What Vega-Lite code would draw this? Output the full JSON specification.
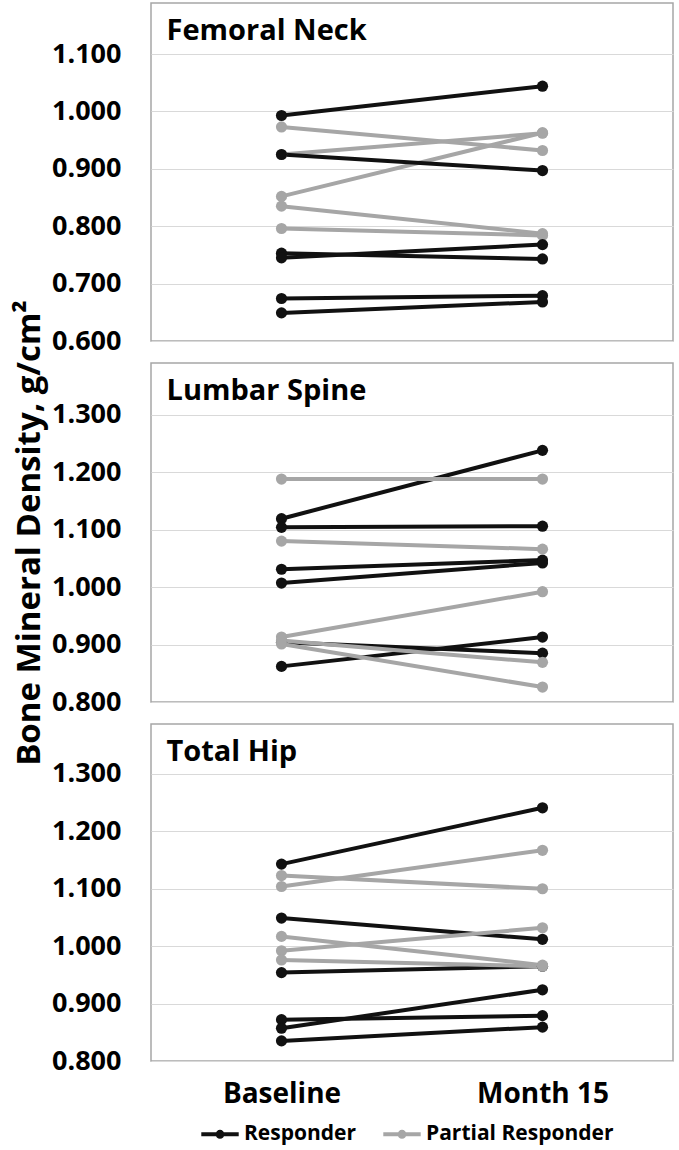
{
  "$schema": "https://vega.github.io/schema/vega-lite/v6.json",
  "background": "white",
  "padding": {"left": 12, "top": 2, "right": 4, "bottom": 0},
  "config": {
    "font": "Open Sans",
    "view": {"stroke": "#a6a6a6", "strokeWidth": 1.5},
    "axis": {
      "labelFont": "Open Sans",
      "labelFontWeight": "bold",
      "labelColor": "#000000",
      "ticks": false,
      "domain": false,
      "gridColor": "#d9d9d9",
      "gridWidth": 1.2,
      "titleFont": "Open Sans",
      "titleFontWeight": "bold",
      "titleColor": "#000000"
    },
    "line": {"strokeWidth": 4}
  },
  "datasets": {
    "bmd": [
      {"site": "Femoral Neck", "id": "P1", "group": "Partial Responder", "time": "Baseline", "bmd": 0.973},
      {"site": "Femoral Neck", "id": "P1", "group": "Partial Responder", "time": "Month 15", "bmd": 0.932},
      {"site": "Femoral Neck", "id": "P2", "group": "Partial Responder", "time": "Baseline", "bmd": 0.925},
      {"site": "Femoral Neck", "id": "P2", "group": "Partial Responder", "time": "Month 15", "bmd": 0.962},
      {"site": "Femoral Neck", "id": "P3", "group": "Partial Responder", "time": "Baseline", "bmd": 0.852},
      {"site": "Femoral Neck", "id": "P3", "group": "Partial Responder", "time": "Month 15", "bmd": 0.963},
      {"site": "Femoral Neck", "id": "P4", "group": "Partial Responder", "time": "Baseline", "bmd": 0.835},
      {"site": "Femoral Neck", "id": "P4", "group": "Partial Responder", "time": "Month 15", "bmd": 0.787},
      {"site": "Femoral Neck", "id": "P5", "group": "Partial Responder", "time": "Baseline", "bmd": 0.796},
      {"site": "Femoral Neck", "id": "P5", "group": "Partial Responder", "time": "Month 15", "bmd": 0.784},
      {"site": "Femoral Neck", "id": "R1", "group": "Responder", "time": "Baseline", "bmd": 0.993},
      {"site": "Femoral Neck", "id": "R1", "group": "Responder", "time": "Month 15", "bmd": 1.044},
      {"site": "Femoral Neck", "id": "R2", "group": "Responder", "time": "Baseline", "bmd": 0.925},
      {"site": "Femoral Neck", "id": "R2", "group": "Responder", "time": "Month 15", "bmd": 0.897},
      {"site": "Femoral Neck", "id": "R3", "group": "Responder", "time": "Baseline", "bmd": 0.753},
      {"site": "Femoral Neck", "id": "R3", "group": "Responder", "time": "Month 15", "bmd": 0.743},
      {"site": "Femoral Neck", "id": "R4", "group": "Responder", "time": "Baseline", "bmd": 0.745},
      {"site": "Femoral Neck", "id": "R4", "group": "Responder", "time": "Month 15", "bmd": 0.768},
      {"site": "Femoral Neck", "id": "R5", "group": "Responder", "time": "Baseline", "bmd": 0.674},
      {"site": "Femoral Neck", "id": "R5", "group": "Responder", "time": "Month 15", "bmd": 0.679},
      {"site": "Femoral Neck", "id": "R6", "group": "Responder", "time": "Baseline", "bmd": 0.649},
      {"site": "Femoral Neck", "id": "R6", "group": "Responder", "time": "Month 15", "bmd": 0.668},
      {"site": "Lumbar Spine", "id": "R1", "group": "Responder", "time": "Baseline", "bmd": 1.119},
      {"site": "Lumbar Spine", "id": "R1", "group": "Responder", "time": "Month 15", "bmd": 1.238},
      {"site": "Lumbar Spine", "id": "R2", "group": "Responder", "time": "Baseline", "bmd": 1.104},
      {"site": "Lumbar Spine", "id": "R2", "group": "Responder", "time": "Month 15", "bmd": 1.106},
      {"site": "Lumbar Spine", "id": "R3", "group": "Responder", "time": "Baseline", "bmd": 1.031},
      {"site": "Lumbar Spine", "id": "R3", "group": "Responder", "time": "Month 15", "bmd": 1.047},
      {"site": "Lumbar Spine", "id": "R4", "group": "Responder", "time": "Baseline", "bmd": 1.007},
      {"site": "Lumbar Spine", "id": "R4", "group": "Responder", "time": "Month 15", "bmd": 1.042},
      {"site": "Lumbar Spine", "id": "R5", "group": "Responder", "time": "Baseline", "bmd": 0.904},
      {"site": "Lumbar Spine", "id": "R5", "group": "Responder", "time": "Month 15", "bmd": 0.885},
      {"site": "Lumbar Spine", "id": "R6", "group": "Responder", "time": "Baseline", "bmd": 0.862},
      {"site": "Lumbar Spine", "id": "R6", "group": "Responder", "time": "Month 15", "bmd": 0.913},
      {"site": "Lumbar Spine", "id": "P1", "group": "Partial Responder", "time": "Baseline", "bmd": 1.188},
      {"site": "Lumbar Spine", "id": "P1", "group": "Partial Responder", "time": "Month 15", "bmd": 1.188},
      {"site": "Lumbar Spine", "id": "P2", "group": "Partial Responder", "time": "Baseline", "bmd": 1.080},
      {"site": "Lumbar Spine", "id": "P2", "group": "Partial Responder", "time": "Month 15", "bmd": 1.066},
      {"site": "Lumbar Spine", "id": "P3", "group": "Partial Responder", "time": "Baseline", "bmd": 0.913},
      {"site": "Lumbar Spine", "id": "P3", "group": "Partial Responder", "time": "Month 15", "bmd": 0.992},
      {"site": "Lumbar Spine", "id": "P4", "group": "Partial Responder", "time": "Baseline", "bmd": 0.907},
      {"site": "Lumbar Spine", "id": "P4", "group": "Partial Responder", "time": "Month 15", "bmd": 0.869},
      {"site": "Lumbar Spine", "id": "P5", "group": "Partial Responder", "time": "Baseline", "bmd": 0.901},
      {"site": "Lumbar Spine", "id": "P5", "group": "Partial Responder", "time": "Month 15", "bmd": 0.826},
      {"site": "Total Hip", "id": "R1", "group": "Responder", "time": "Baseline", "bmd": 1.143},
      {"site": "Total Hip", "id": "R1", "group": "Responder", "time": "Month 15", "bmd": 1.241},
      {"site": "Total Hip", "id": "R2", "group": "Responder", "time": "Baseline", "bmd": 1.049},
      {"site": "Total Hip", "id": "R2", "group": "Responder", "time": "Month 15", "bmd": 1.012},
      {"site": "Total Hip", "id": "R3", "group": "Responder", "time": "Baseline", "bmd": 0.954},
      {"site": "Total Hip", "id": "R3", "group": "Responder", "time": "Month 15", "bmd": 0.965},
      {"site": "Total Hip", "id": "R4", "group": "Responder", "time": "Baseline", "bmd": 0.872},
      {"site": "Total Hip", "id": "R4", "group": "Responder", "time": "Month 15", "bmd": 0.879},
      {"site": "Total Hip", "id": "R5", "group": "Responder", "time": "Baseline", "bmd": 0.857},
      {"site": "Total Hip", "id": "R5", "group": "Responder", "time": "Month 15", "bmd": 0.924},
      {"site": "Total Hip", "id": "R6", "group": "Responder", "time": "Baseline", "bmd": 0.835},
      {"site": "Total Hip", "id": "R6", "group": "Responder", "time": "Month 15", "bmd": 0.859},
      {"site": "Total Hip", "id": "P1", "group": "Partial Responder", "time": "Baseline", "bmd": 1.123},
      {"site": "Total Hip", "id": "P1", "group": "Partial Responder", "time": "Month 15", "bmd": 1.100},
      {"site": "Total Hip", "id": "P2", "group": "Partial Responder", "time": "Baseline", "bmd": 1.104},
      {"site": "Total Hip", "id": "P2", "group": "Partial Responder", "time": "Month 15", "bmd": 1.167},
      {"site": "Total Hip", "id": "P3", "group": "Partial Responder", "time": "Baseline", "bmd": 1.017},
      {"site": "Total Hip", "id": "P3", "group": "Partial Responder", "time": "Month 15", "bmd": 0.967},
      {"site": "Total Hip", "id": "P4", "group": "Partial Responder", "time": "Baseline", "bmd": 0.992},
      {"site": "Total Hip", "id": "P4", "group": "Partial Responder", "time": "Month 15", "bmd": 1.032},
      {"site": "Total Hip", "id": "P5", "group": "Partial Responder", "time": "Baseline", "bmd": 0.976},
      {"site": "Total Hip", "id": "P5", "group": "Partial Responder", "time": "Month 15", "bmd": 0.965}
    ],
    "panels": [
      {"site": "Femoral Neck"},
      {"site": "Lumbar Spine"},
      {"site": "Total Hip"}
    ]
  },
  "spacing": 22,
  "bounds": "flush",
  "resolve": {"scale": {"y": "independent", "x": "shared", "color": "shared"}},
  "vconcat": [
    {
      "width": 522,
      "height": 338,
      "layer": [
        {
          "data": {"name": "bmd"},
          "transform": [{"filter": "datum.site === 'Femoral Neck'"}],
          "mark": {"type": "line", "strokeWidth": 4, "point": {"filled": true, "size": 125}},
          "encoding": {
            "x": {"field": "time", "type": "nominal", "sort": ["Baseline", "Month 15"], "scale": {"type": "point", "padding": 0.5}, "axis": null},
            "y": {"field": "bmd", "type": "quantitative", "scale": {"domain": [0.6, 1.189], "nice": false, "zero": false},
                  "axis": {"values": [0.6, 0.7, 0.8, 0.9, 1.0, 1.1], "format": ".3f", "labelFontSize": 27, "labelPadding": 30, "title": null}},
            "color": {"field": "group", "type": "nominal", "scale": {"domain": ["Responder", "Partial Responder"], "range": ["#111111", "#a6a6a6"]},
                      "legend": {"orient": "none", "direction": "horizontal", "legendX": 48, "legendY": 1110, "title": null, "labelFontSize": 21, "labelFontWeight": "bold", "labelColor": "#000000", "labelFont": "Open Sans", "labelLimit": 400, "symbolType": "M-1,0H1M-0.13,0A0.13,0.13,0,1,1,0.13,0A0.13,0.13,0,1,1,-0.13,0Z", "symbolSize": 1400, "symbolStrokeWidth": 4, "labelOffset": 3, "columnPadding": 18}},
            "detail": {"field": "id", "type": "nominal"}
          }
        },
        {
          "data": {"name": "panels"},
          "transform": [{"filter": "datum.site === 'Femoral Neck'"}],
          "mark": {"type": "text", "align": "left", "baseline": "alphabetic", "font": "Open Sans", "fontSize": 29, "fontWeight": "bold", "color": "#000000", "dx": -115},
          "encoding": {
            "x": {"datum": "Baseline"},
            "y": {"datum": 1.124},
            "text": {"field": "site"}
          }
        }
      ]
    },
    {
      "width": 522,
      "height": 339,
      "layer": [
        {
          "data": {"name": "bmd"},
          "transform": [{"filter": "datum.site === 'Lumbar Spine'"}],
          "mark": {"type": "line", "strokeWidth": 4, "point": {"filled": true, "size": 125}},
          "encoding": {
            "x": {"field": "time", "type": "nominal", "sort": ["Baseline", "Month 15"], "scale": {"type": "point", "padding": 0.5}, "axis": null},
            "y": {"field": "bmd", "type": "quantitative", "scale": {"domain": [0.8, 1.39], "nice": false, "zero": false},
                  "axis": {"values": [0.8, 0.9, 1.0, 1.1, 1.2, 1.3], "format": ".3f", "labelFontSize": 27, "labelPadding": 30, "title": "Bone Mineral Density, g/cm²", "titleFontSize": 33, "titlePadding": 5}},
            "color": {"field": "group", "type": "nominal", "scale": {"domain": ["Responder", "Partial Responder"], "range": ["#111111", "#a6a6a6"]},
                      "legend": {"orient": "none", "direction": "horizontal", "legendX": 48, "legendY": 1110, "title": null, "labelFontSize": 21, "labelFontWeight": "bold", "labelColor": "#000000", "labelFont": "Open Sans", "labelLimit": 400, "symbolType": "M-1,0H1M-0.13,0A0.13,0.13,0,1,1,0.13,0A0.13,0.13,0,1,1,-0.13,0Z", "symbolSize": 1400, "symbolStrokeWidth": 4, "labelOffset": 3, "columnPadding": 18}},
            "detail": {"field": "id", "type": "nominal"}
          }
        },
        {
          "data": {"name": "panels"},
          "transform": [{"filter": "datum.site === 'Lumbar Spine'"}],
          "mark": {"type": "text", "align": "left", "baseline": "alphabetic", "font": "Open Sans", "fontSize": 29, "fontWeight": "bold", "color": "#000000", "dx": -115},
          "encoding": {
            "x": {"datum": "Baseline"},
            "y": {"datum": 1.325},
            "text": {"field": "site"}
          }
        }
      ]
    },
    {
      "width": 522,
      "height": 337,
      "layer": [
        {
          "data": {"name": "bmd"},
          "transform": [{"filter": "datum.site === 'Total Hip'"}],
          "mark": {"type": "line", "strokeWidth": 4, "point": {"filled": true, "size": 125}},
          "encoding": {
            "x": {"field": "time", "type": "nominal", "sort": ["Baseline", "Month 15"], "scale": {"type": "point", "padding": 0.5},
                  "axis": {"title": null, "labelAngle": 0, "labelFontSize": 28, "labelPadding": 19, "grid": false}},
            "y": {"field": "bmd", "type": "quantitative", "scale": {"domain": [0.8, 1.387], "nice": false, "zero": false},
                  "axis": {"values": [0.8, 0.9, 1.0, 1.1, 1.2, 1.3], "format": ".3f", "labelFontSize": 27, "labelPadding": 30, "title": null}},
            "color": {"field": "group", "type": "nominal", "scale": {"domain": ["Responder", "Partial Responder"], "range": ["#111111", "#a6a6a6"]},
                      "legend": {"orient": "none", "direction": "horizontal", "legendX": 48, "legendY": 1110, "title": null, "labelFontSize": 21, "labelFontWeight": "bold", "labelColor": "#000000", "labelFont": "Open Sans", "labelLimit": 400, "symbolType": "M-1,0H1M-0.13,0A0.13,0.13,0,1,1,0.13,0A0.13,0.13,0,1,1,-0.13,0Z", "symbolSize": 1400, "symbolStrokeWidth": 4, "labelOffset": 3, "columnPadding": 18}},
            "detail": {"field": "id", "type": "nominal"}
          }
        },
        {
          "data": {"name": "panels"},
          "transform": [{"filter": "datum.site === 'Total Hip'"}],
          "mark": {"type": "text", "align": "left", "baseline": "alphabetic", "font": "Open Sans", "fontSize": 29, "fontWeight": "bold", "color": "#000000", "dx": -115},
          "encoding": {
            "x": {"datum": "Baseline"},
            "y": {"datum": 1.322},
            "text": {"field": "site"}
          }
        }
      ]
    }
  ]
}
